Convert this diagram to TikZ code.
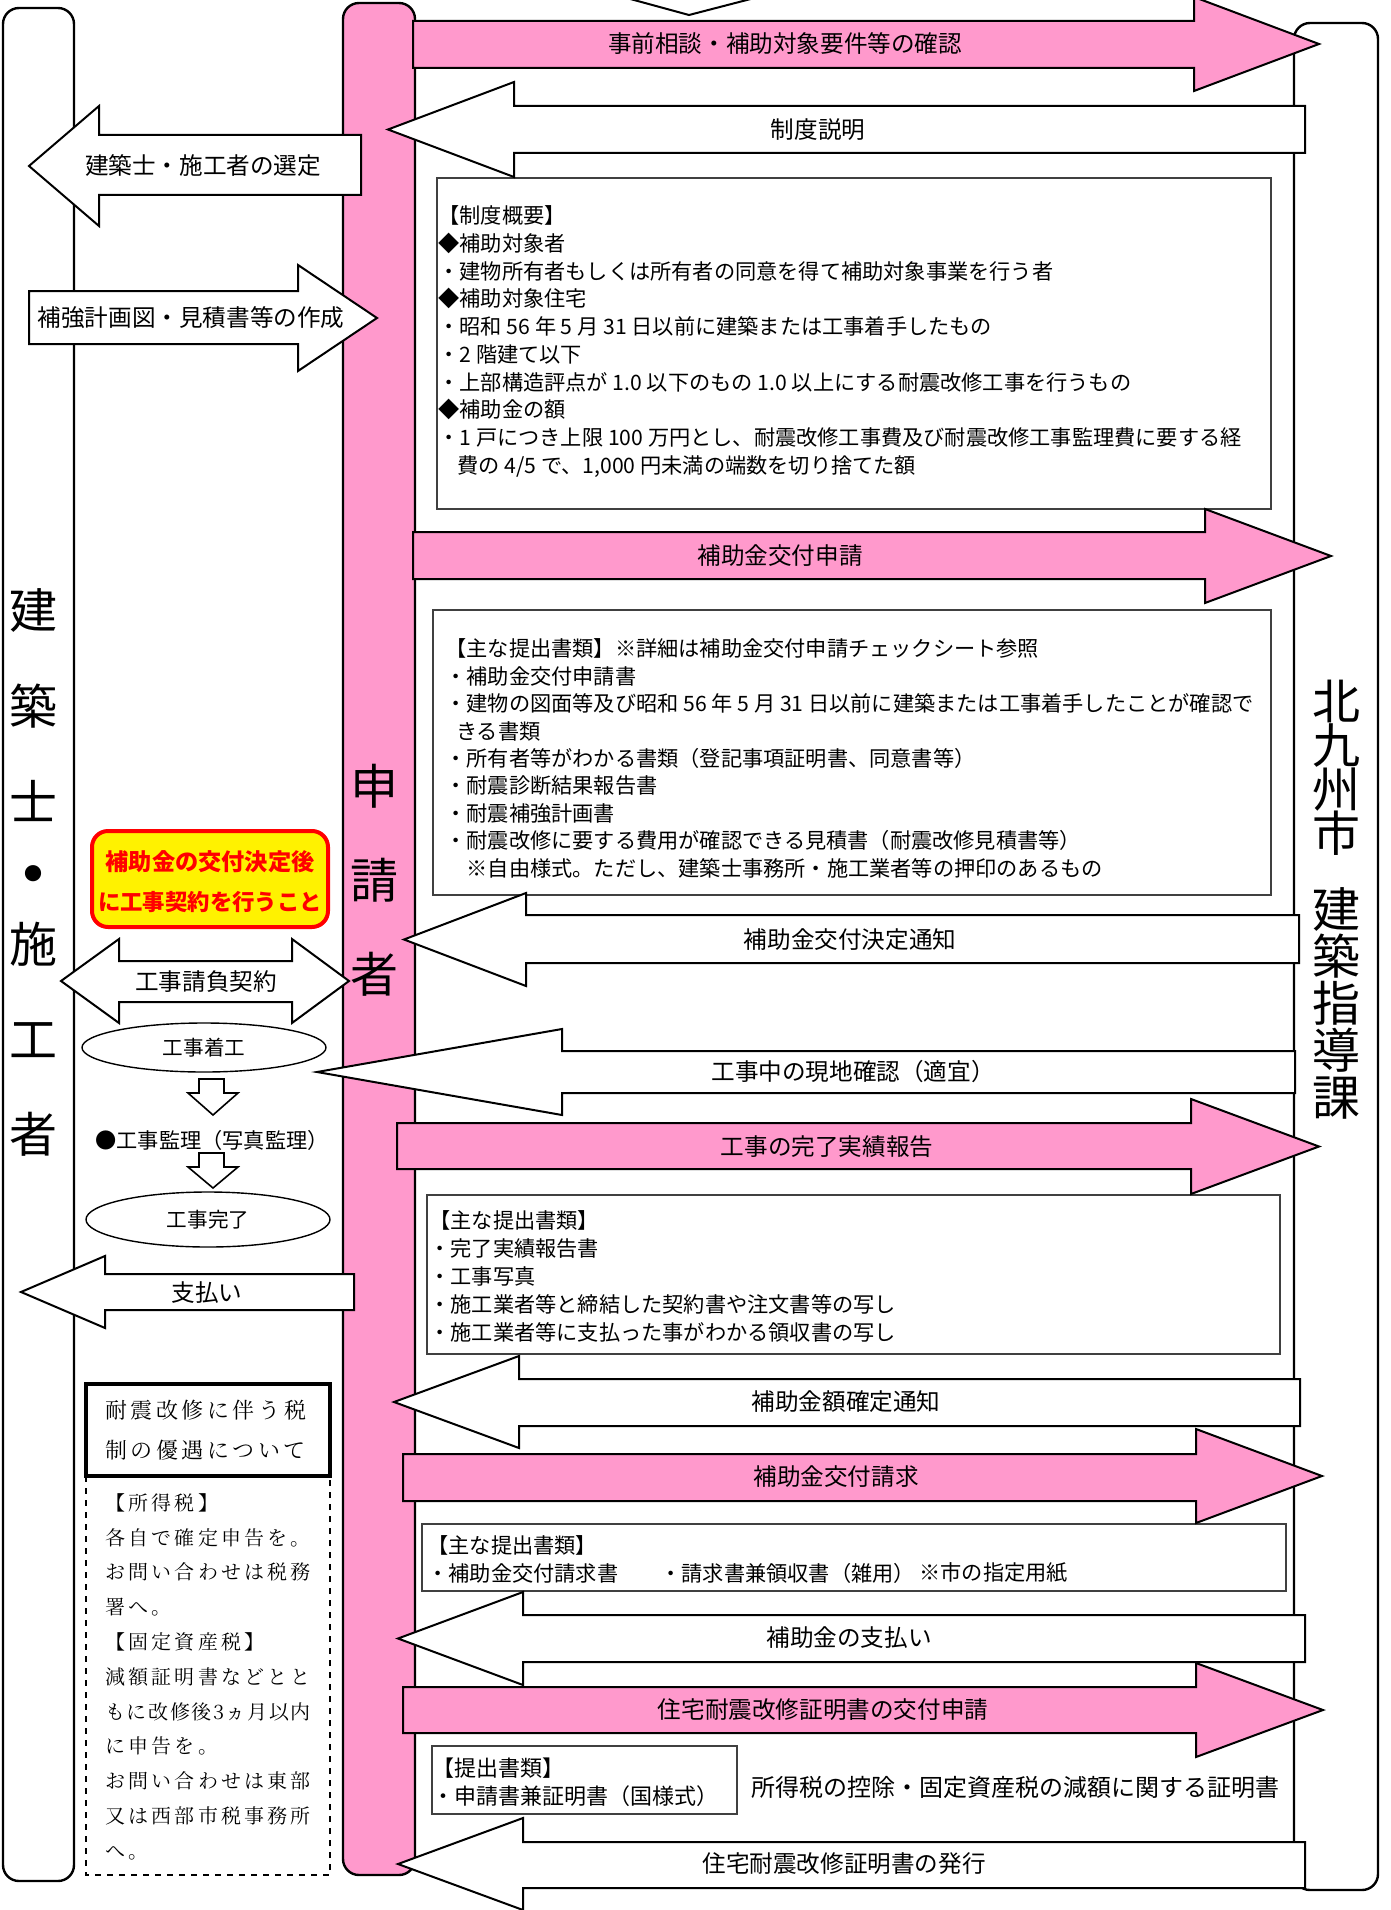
\documentclass[tikz,border=0pt]{standalone}
\usepackage{fontspec}
\setmainfont{Noto Sans CJK JP}
\IfFontExistsTF{Noto Serif CJK JP}{\newfontfamily\taxfont{Noto Serif CJK JP}[LetterSpace=16]}{\newfontfamily\taxfont{Noto Sans CJK JP}[LetterSpace=16]}
\usetikzlibrary{shapes.geometric}
\definecolor{lanepink}{RGB}{255,153,204}
\newcommand{\blockarrow}[8]{\draw[#1] (#2,#5) -- (#3,#5) -- (#3,#7) -- (#4,{(#7+#8)/2}) -- (#3,#8) -- (#3,#6) -- (#2,#6) -- cycle;}
\tikzset{
  lane/.style={draw=black, line width=1.2pt, rounded corners=8pt},
  pinklane/.style={lane, fill=lanepink},
  whitelane/.style={lane, fill=white},
  parrow/.style={draw=black, line width=1pt, fill=lanepink},
  warrow/.style={draw=black, line width=1pt, fill=white},
  infobox/.style={draw=black!75, line width=0.7pt, fill=white},
  lbl/.style={inner sep=0pt, font=\fontsize{11.8}{14}\selectfont},
  boxtxt/.style={inner sep=0pt, align=left, anchor=north west, font=\fontsize{10.6}{13.85}\selectfont},
  boxline/.style={inner sep=0pt, anchor=west, font=\fontsize{10.6}{13.85}\selectfont},
  lanelbl/.style={inner sep=0pt, align=center},
  smalltxt/.style={inner sep=0pt, font=\fontsize{10.6}{12}\selectfont},
  taxtxt/.style={inner sep=0pt, align=left, anchor=north west},
}
\begin{document}
\begin{tikzpicture}[x=0.5pt,y=-0.5pt]
\useasboundingbox (0,0) rectangle (1391,1910);
\clip (0,0) rectangle (1391,1910);
\fill[white] (0,0) rectangle (1391,1910);

% lanes
\draw[whitelane] (3,8) rectangle (74,1881);
\draw[pinklane] (343,3) rectangle (415,1875);
\draw[whitelane] (1294,23) rectangle (1378,1890);

% partial arrow at the top
\path[warrow] (612,-6) -- (689,15) -- (770,-6);

% information boxes
\draw[infobox] (437,178) rectangle (1271,509);
\draw[infobox] (433,610) rectangle (1271,895);
\draw[infobox] (427,1195) rectangle (1280,1354);
\draw[infobox] (422,1524) rectangle (1286,1591);
\draw[infobox] (432,1746) rectangle (737,1814);

% yellow notice
\draw[draw=red, line width=2pt, fill=yellow, rounded corners=8pt] (92,831) rectangle (328,927);

% tax boxes
\draw[black, line width=1.75pt, fill=white] (86,1384) rectangle (330,1476);
\draw[black, line width=0.7pt, dashed] (86,1476) -- (86,1875) -- (330,1875) -- (330,1476);

% construction flow
\node[ellipse, draw=black, line width=0.7pt, fill=white, minimum width=122pt, minimum height=24.5pt, inner sep=0pt, font=\fontsize{10.3}{12}\selectfont] (kstart) at (204,1047.5) {工事着工};
\node[ellipse, draw=black, line width=0.7pt, fill=white, minimum width=122pt, minimum height=27.5pt, inner sep=0pt, font=\fontsize{10.3}{12}\selectfont] (kend) at (208,1219.5) {工事完了};
\draw[warrow, line width=0.8pt] (199,1079) -- (224,1079) -- (224,1093) -- (238,1093) -- (213,1115) -- (188,1093) -- (199,1093) -- cycle;
\draw[warrow, line width=0.8pt] (199,1153) -- (224,1153) -- (224,1167) -- (238,1167) -- (213,1188) -- (188,1167) -- (199,1167) -- cycle;

% double arrow
\draw[warrow] (119,961) -- (292,961) -- (292,939) -- (349,981) -- (292,1023) -- (292,1002) -- (119,1002) -- (119,1023) -- (61,981) -- (119,939) -- cycle;

% block arrows: style, far x, head base x, tip x, body top, body bottom, head top, head bottom
\blockarrow{parrow}{413}{1194}{1319}{21}{68}{-3}{91}
\blockarrow{warrow}{1305}{514}{388}{106}{153}{82}{177}
\blockarrow{warrow}{361}{99}{29}{135}{195}{106}{226}
\blockarrow{warrow}{29}{298}{377}{291}{344}{265}{371}
\blockarrow{parrow}{413}{1205}{1331}{532}{579}{509}{603}
\blockarrow{warrow}{1299}{526}{404}{915}{963}{893}{986}
\blockarrow{warrow}{1295}{562}{317}{1051}{1093}{1029}{1115}
\blockarrow{parrow}{397}{1191}{1319}{1123}{1169}{1099}{1194}
\blockarrow{warrow}{1300}{519}{394}{1379}{1426}{1356}{1448}
\blockarrow{parrow}{403}{1196}{1322}{1454}{1501}{1429}{1523}
\blockarrow{warrow}{1305}{523}{398}{1615}{1662}{1592}{1685}
\blockarrow{parrow}{403}{1196}{1323}{1687}{1733}{1663}{1757}
\blockarrow{warrow}{1305}{523}{398}{1842}{1888}{1818}{1910}
\blockarrow{warrow}{354}{105}{21}{1274}{1310}{1256}{1328}

% lane labels
\node[lanelbl, font=\fontsize{24}{48}\selectfont] (archA) at (34,705) {建\\築\\士};
\node[inner sep=0pt, font=\fontsize{9}{10}\selectfont] (archdot) at (34,874) {●};
\node[lanelbl, font=\fontsize{24}{47.5}\selectfont] (archB) at (34,1039) {施\\工\\者};
\node[lanelbl, font=\fontsize{24}{47}\selectfont] (applicant) at (374,880) {申\\請\\者};
\node[lanelbl, font={\fontsize{24}{22}\selectfont\lineskiplimit=-30pt}] (cityA) at (1336,768) {北\\九\\州\\市};
\node[lanelbl, font={\fontsize{24}{23.5}\selectfont\lineskiplimit=-30pt}] (cityB) at (1336,1003) {建\\築\\指\\導\\課};

% arrow labels
\node[lbl] (t1) at (785,44) {事前相談・補助対象要件等の確認};
\node[lbl] (t2) at (818,129.5) {制度説明};
\node[lbl] (t3) at (203,166) {建築士・施工者の選定};
\node[lbl] (t4) at (191,318) {補強計画図・見積書等の作成};
\node[lbl] (t5) at (780,556) {補助金交付申請};
\node[lbl] (t6) at (850,939.5) {補助金交付決定通知};
\node[lbl] (t7) at (853,1072) {工事中の現地確認（適宜）};
\node[lbl] (t8) at (827,1147) {工事の完了実績報告};
\node[lbl] (t9) at (846,1402) {補助金額確定通知};
\node[lbl] (t10) at (836,1477) {補助金交付請求};
\node[lbl] (t11) at (849,1638) {補助金の支払い};
\node[lbl] (t12) at (823,1710) {住宅耐震改修証明書の交付申請};
\node[lbl] (t13) at (844,1864) {住宅耐震改修証明書の発行};
\node[lbl] (t14) at (207,1293) {支払い};
\node[lbl] (contract) at (206,982) {工事請負契約};
\node[smalltxt] (supervise) at (212,1140) {●工事監理（写真監理）};

% notice text
\node[inner sep=0pt, align=center, text=red, font={\fontsize{11.4}{20}\selectfont\bfseries}] (notice) at (210,882) {{\fontsize{11.6}{20}\selectfont 補助金の交付決定後}\\{\fontsize{11.2}{20}\selectfont に工事契約を行うこと}};

% box texts
\node[boxtxt] (b1t) at (438,205.5) {【制度概要】\\◆補助対象者\\・建物所有者もしくは所有者の同意を得て補助対象事業を行う者\\◆補助対象住宅\\・昭和 56 年 5 月 31 日以前に建築または工事着手したもの\\・2 階建て以下\\・上部構造評点が 1.0 以下のもの 1.0 以上にする耐震改修工事を行うもの\\◆補助金の額\\・1 戸につき上限 100 万円とし、耐震改修工事費及び耐震改修工事監理費に要する経\\\hspace{0.9em}費の 4/5 で、1,000 円未満の端数を切り捨てた額};

\node[boxtxt, font=\fontsize{10.6}{13.7}\selectfont] (b2t) at (445,638.5) {【主な提出書類】※詳細は補助金交付申請チェックシート参照\\・補助金交付申請書\\・建物の図面等及び昭和 56 年 5 月 31 日以前に建築または工事着手したことが確認で\\\hspace{0.5em}きる書類\\・所有者等がわかる書類（登記事項証明書、同意書等）\\・耐震診断結果報告書\\・耐震補強計画書\\・耐震改修に要する費用が確認できる見積書（耐震改修見積書等）\\\hspace{1em}※自由様式。ただし、建築士事務所・施工業者等の押印のあるもの};

\node[boxtxt, font=\fontsize{10.6}{14}\selectfont] (b3t) at (429,1210.5) {【主な提出書類】\\・完了実績報告書\\・工事写真\\・施工業者等と締結した契約書や注文書等の写し\\・施工業者等に支払った事がわかる領収書の写し};

\node[boxtxt, font=\fontsize{10.6}{14}\selectfont] (b4t) at (427,1535.5) {【主な提出書類】\\・補助金交付請求書};
\node[boxline] (b4b) at (660,1573) {・請求書兼領収書（雑用）};
\node[boxline] (b4c) at (919,1573) {※市の指定用紙};

\node[boxtxt, font=\fontsize{11}{14}\selectfont] (b5t) at (432,1757) {【提出書類】\\・申請書兼証明書（国様式）};
\node[lbl, font=\fontsize{12}{14}\selectfont] (cert) at (1015,1787) {所得税の控除・固定資産税の減額に関する証明書};

% tax texts
\node[taxtxt, font=\taxfont\fontsize{11}{20}\selectfont] (taxhead) at (105,1400) {耐震改修に伴う税\\制の優遇について};
\node[taxtxt, font=\taxfont\fontsize{10}{17.4}\selectfont] (taxbody) at (105,1493) {【所得税】\\各自で確定申告を。\\お問い合わせは税務\\署へ。\\【固定資産税】\\減額証明書などとと\\{\addfontfeatures{LetterSpace=8}もに改修後3ヵ月以内}\\に申告を。\\お問い合わせは東部\\又は西部市税事務所\\へ。};
\end{tikzpicture}
\end{document}
